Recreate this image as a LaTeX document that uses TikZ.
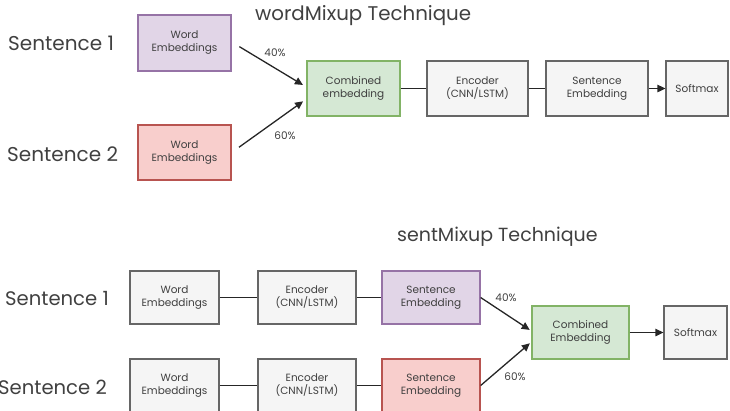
\documentclass[tikz,border=0pt]{standalone}
\usepackage{fontspec}
\setmainfont{Poppins}
\usetikzlibrary{arrows.meta}
\definecolor{txt}{HTML}{404040}
\definecolor{purpf}{HTML}{E1D5E7}\definecolor{purpd}{HTML}{9673A6}
\definecolor{redf}{HTML}{F8CECC}\definecolor{redd}{HTML}{B85450}
\definecolor{grnf}{HTML}{D5E8D4}\definecolor{grnd}{HTML}{82B366}
\definecolor{gryf}{HTML}{F5F5F5}\definecolor{gryd}{HTML}{666666}
\tikzset{
  box/.style={draw=gryd, fill=gryf, line width=1.3pt, align=center, inner sep=0pt,
    font=\fontsize{10.5}{13}\selectfont, text=txt},
  purp/.style={box, draw=purpd, fill=purpf},
  redb/.style={box, draw=redd, fill=redf},
  grn/.style={box, draw=grnd, fill=grnf},
  conn/.style={draw=black!85, line width=1.3pt},
  arr/.style={conn, -{Triangle[length=8pt,width=7.5pt]}},
  pct/.style={font=\fontsize{10.5}{12}\selectfont, text=txt},
  sent/.style={font=\fontsize{20}{23}\selectfont, text=txt, anchor=west, inner sep=0pt},
  ttl/.style={font=\fontsize{19.8}{23}\selectfont, text=txt, anchor=west, inner sep=0pt}
}
\begin{document}
\begin{tikzpicture}[x=1pt,y=-1pt]
\useasboundingbox (0,0) rectangle (730,410);
\clip (0,0) rectangle (730,410);
% top
\node[ttl] (t1) at (255,16) {wordMixup Technique};
\node[sent] (s1) at (8,43) {Sentence 1};
\node[sent] (s2) at (7,154) {Sentence 2};
\node[purp, minimum width=93pt, minimum height=56pt] (w1) at (184.5,43) {Word\\Embeddings};
\node[redb, minimum width=93pt, minimum height=55pt] (w2) at (184.5,152.5) {Word\\Embeddings};
\node[grn, minimum width=93pt, minimum height=55pt] (cb) at (353.5,88.5) {Combined\\embedding};
\node[box, minimum width=101pt, minimum height=55pt] (enc) at (477.5,88.5) {Encoder\\(CNN/LSTM)};
\node[box, minimum width=102pt, minimum height=55pt] (se) at (597,88.5) {Sentence\\Embedding};
\node[box, minimum width=62pt, minimum height=55pt] (sm) at (697,88.5) {Softmax};
\draw[arr, shorten <=9pt, shorten >=4pt] ([yshift=1pt]w1.east) -- ([yshift=1.5pt]cb.west);
\draw[arr, shorten <=9pt, shorten >=4pt] (w2.east) -- ([yshift=-10.5pt]cb.west);
\node[pct] (p1) at (275,53) {40\%};
\node[pct] (p2) at (285,136) {60\%};
\draw[conn] (cb) -- (enc);
\draw[conn] (enc) -- (se);
\draw[arr] (se) -- (sm);
% bottom
\node[ttl, font=\fontsize{19}{22}\selectfont] (t2) at (397,237) {sentMixup Technique};
\node[sent, font=\fontsize{19.6}{22}\selectfont] (s3) at (5,298) {Sentence 1};
\node[sent, font=\fontsize{19.6}{22}\selectfont] (s4) at (-2,387) {Sentence 2};
\node[box, minimum width=89pt, minimum height=53pt] (bw1) at (174.5,297.5) {Word\\Embeddings};
\node[box, minimum width=98pt, minimum height=53pt] (be1) at (307,297.5) {Encoder\\(CNN/LSTM)};
\node[purp, minimum width=98pt, minimum height=53pt] (bs1) at (431,297.5) {Sentence\\Embedding};
\node[box, minimum width=89pt, minimum height=53pt] (bw2) at (174.5,385.5) {Word\\Embeddings};
\node[box, minimum width=98pt, minimum height=53pt] (be2) at (307,385.5) {Encoder\\(CNN/LSTM)};
\node[redb, minimum width=98pt, minimum height=53pt] (bs2) at (431,385.5) {Sentence\\Embedding};
\node[grn, minimum width=97pt, minimum height=53pt] (bc) at (580.5,332.5) {Combined\\Embedding};
\node[box, minimum width=63pt, minimum height=53pt] (bsm) at (695.5,332.5) {Softmax};
\draw[conn] (bw1) -- (be1);
\draw[conn] (be1) -- (bs1);
\draw[conn] (bw2) -- (be2);
\draw[conn] (be2) -- (bs2);
\draw[arr, shorten >=2pt] (bs1.east) -- ([yshift=1.5pt]bc.west);
\draw[arr, shorten >=2pt] (bs2.east) -- ([yshift=-9.5pt]bc.west);
\node[pct] (p3) at (506,298) {40\%};
\node[pct] (p4) at (515,377) {60\%};
\draw[arr] (bc) -- (bsm);
\end{tikzpicture}
\end{document}
